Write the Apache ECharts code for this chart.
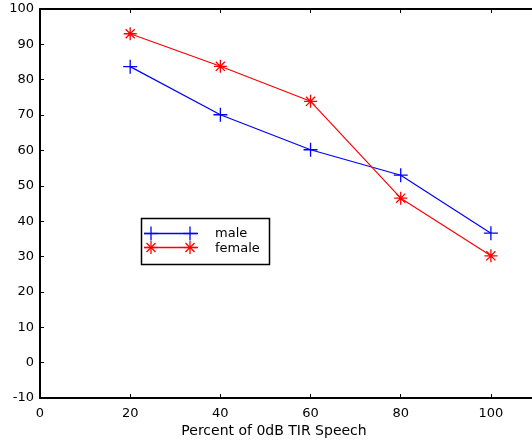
<!DOCTYPE html>
<html>
<head>
<meta charset="utf-8">
<script src="https://cdn.jsdelivr.net/npm/echarts@6/dist/echarts.min.js"></script>
<style>
html, body { margin: 0; padding: 0; background: #fff; overflow: hidden; }
#chart { width: 544px; height: 442px; }
</style>
</head>
<body>
<div id="chart"></div>
<script>
// Recognition rate vs. percent of 0dB TIR speech
const percents = [20, 40, 60, 80, 100];
const maleValues = [83.7, 70.1, 60.2, 53.0, 36.6];
const femaleValues = [93.0, 83.8, 73.9, 46.5, 30.2];
const xTicks = [0, 20, 40, 60, 80, 100];
const yTicks = [-10, 0, 10, 20, 30, 40, 50, 60, 70, 80, 90, 100];
const xTitle = 'Percent of 0dB TIR Speech';

const PLUS = 'path://M0,-1L0,1M-1,0L1,0';
const STAR = 'path://M0,-1L0,1M-1,0L1,0M-0.7,-0.7L0.7,0.7M-0.7,0.7L0.7,-0.7';
const FONT = 'DejaVu Sans, sans-serif';

const pairs = vals => percents.map((p, i) => [p, vals[i]]);

// legend glyph helpers: short stroked segments
function seg(x1, y1, x2, y2, color) {
  return { type: 'line', shape: { x1, y1, x2, y2 }, style: { stroke: color, lineWidth: 1.3 }, z: 11 };
}
function plusGlyph(cx, cy, r, color) {
  return [seg(cx, cy - r, cx, cy + r, color), seg(cx - r, cy, cx + r, cy, color)];
}
function starGlyph(cx, cy, r, color) {
  const d = r * 0.7;
  return plusGlyph(cx, cy, r, color).concat([
    seg(cx - d, cy - d, cx + d, cy + d, color),
    seg(cx - d, cy + d, cx + d, cy - d, color)
  ]);
}

const chart = echarts.init(document.getElementById('chart'), null, { renderer: 'canvas' });

const axisLine = { show: true, onZero: false, lineStyle: { color: '#000', width: 2 } };
const tickIn = { show: true, inside: true, length: 4, lineStyle: { color: '#000', width: 1 } };

chart.setOption({
  animation: false,
  backgroundColor: '#fff',
  grid: { left: 40, top: 9, width: 496, height: 389, containLabel: false },
  xAxis: [
    {
      type: 'value', min: 0, max: 110, interval: 20, position: 'bottom',
      axisLine, axisTick: tickIn, splitLine: { show: false },
      axisLabel: { color: '#000', fontSize: 13, fontFamily: FONT, margin: 9, showMaxLabel: false,
        formatter: v => (xTicks.includes(v) ? String(v) : '') }
    },
    {
      type: 'value', min: 0, max: 110, interval: 20, position: 'top',
      axisLine, axisTick: tickIn, splitLine: { show: false }, axisLabel: { show: false }
    }
  ],
  yAxis: [
    {
      type: 'value', min: -10, max: 100, interval: 10, position: 'left',
      axisLine, axisTick: tickIn, splitLine: { show: false },
      axisLabel: { color: '#000', fontSize: 13, fontFamily: FONT, margin: 6,
        formatter: v => (yTicks.includes(v) ? String(v) : '') }
    },
    {
      type: 'value', min: -10, max: 100, interval: 10, position: 'right',
      axisLine, axisTick: tickIn, splitLine: { show: false }, axisLabel: { show: false }
    }
  ],
  series: [
    {
      name: 'male', type: 'line', data: pairs(maleValues),
      symbol: PLUS, symbolSize: 14, showAllSymbol: true,
      lineStyle: { color: '#0000ff', width: 1.2 },
      itemStyle: { color: 'rgba(0,0,0,0)', borderColor: '#0000ff', borderWidth: 1.3 }
    },
    {
      name: 'female', type: 'line', data: pairs(femaleValues),
      symbol: STAR, symbolSize: 13, showAllSymbol: true,
      lineStyle: { color: '#ff0000', width: 1.2 },
      itemStyle: { color: 'rgba(0,0,0,0)', borderColor: '#ff0000', borderWidth: 1.3 }
    }
  ],
  graphic: [
    // x axis title
    { type: 'text', x: 274, y: 431, style: { text: xTitle, fill: '#000', fontSize: 14, fontFamily: FONT,
        align: 'center', verticalAlign: 'middle' } },
    // legend box
    { type: 'rect', shape: { x: 141.5, y: 218.5, width: 128, height: 46 },
      style: { fill: '#fff', stroke: '#000', lineWidth: 1.5 }, z: 10 },
    seg(144, 233.5, 198, 233.5, '#0000ff'),
    ...plusGlyph(151, 233.5, 7, '#0000ff'),
    ...plusGlyph(190, 233.5, 7, '#0000ff'),
    seg(144, 247.5, 198, 247.5, '#ff0000'),
    ...starGlyph(151, 247.5, 6.5, '#ff0000'),
    ...starGlyph(190, 247.5, 6.5, '#ff0000'),
    { type: 'text', x: 215, y: 234, style: { text: 'male', fill: '#000', fontSize: 13, fontFamily: FONT,
        verticalAlign: 'middle' }, z: 11 },
    { type: 'text', x: 215, y: 249, style: { text: 'female', fill: '#000', fontSize: 13, fontFamily: FONT,
        verticalAlign: 'middle' }, z: 11 }
  ]
});
</script>
</body>
</html>
